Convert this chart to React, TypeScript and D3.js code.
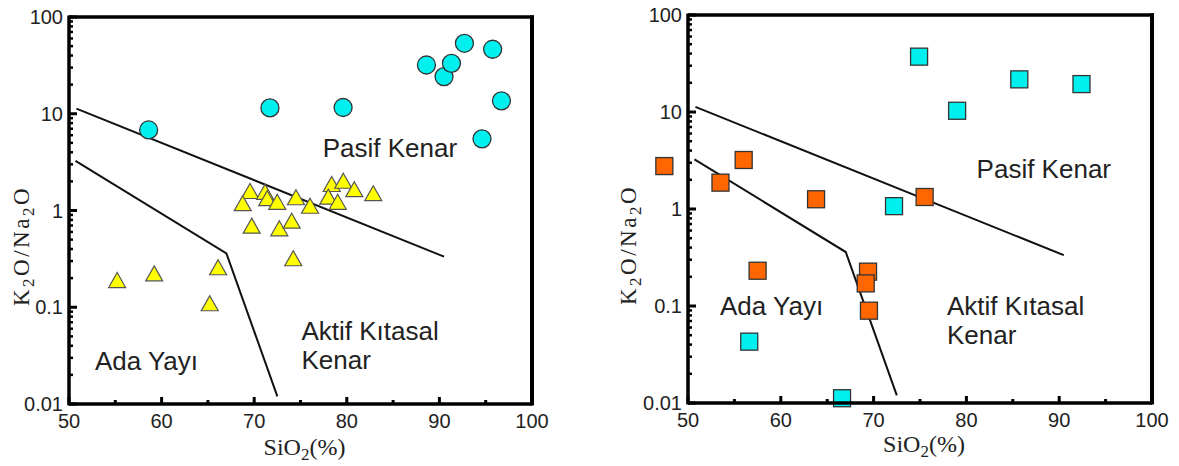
import React from "react";
import * as d3 from "d3";

// ---- Data ----
// Left panel: circles (Pasif Kenar group) and triangles
const CIRCLE_SIO2 = [58.6, 71.7, 79.6, 88.6, 90.5, 91.3, 92.7, 95.75, 96.7, 94.6];
const CIRCLE_RATIO = [6.8, 11.5, 11.6, 31.9, 24.2, 33.2, 53.5, 46.4, 13.6, 5.5];

const TRI_SIO2 = [55.2, 59.2, 66.1, 65.2, 69.55, 68.76, 71.17, 71.41, 72.49, 74.51, 76.03, 69.73, 72.71, 74.05, 74.22, 78.37, 79.62, 80.81, 78.0, 79.02, 82.86];
const TRI_RATIO = [0.191, 0.224, 0.259, 0.11, 1.59, 1.19, 1.56, 1.34, 1.23, 1.37, 1.12, 0.697, 0.655, 0.785, 0.321, 1.88, 2.03, 1.66, 1.39, 1.23, 1.51];

// Right panel: orange squares and cyan squares
const ORANGE_SIO2 = [47.45, 53.5, 56.0, 63.8, 75.5, 57.5, 69.4, 69.15, 69.5];
const ORANGE_RATIO = [2.77, 1.87, 3.2, 1.26, 1.33, 0.231, 0.226, 0.171, 0.0895];

const CYANSQ_SIO2 = [74.9, 85.7, 92.4, 79.0, 72.2, 56.6, 66.6];
const CYANSQ_RATIO = [37.2, 21.7, 19.4, 10.3, 1.07, 0.0429, 0.0112];

// Discrimination boundaries
const UPPER_SIO2 = [50.8, 90.5];
const UPPER_RATIO = [11.3, 0.334];
const LOWER_SIO2 = [50.7, 67.0, 72.5];
const LOWER_RATIO = [3.25, 0.36, 0.012];

// Axes
const X_DOMAIN = [50, 100];
const Y_DOMAIN = [0.01, 100];
const X_TICKS = [50, 60, 70, 80, 90, 100];
const X_TICK_LABELS = ["50", "60", "70", "80", "90", "100"];
const X_MINOR = [55, 65, 75, 85, 95];
const Y_TICKS = [0.01, 0.1, 1, 10, 100];
const Y_TICK_LABELS = ["0.01", "0.1", "1", "10", "100"];

// Region labels
const REGION_LEFT = [
  { lines: ["Pasif Kenar"], x: 77.4, y: 3.57 },
  { lines: ["Ada Yayı"], x: 52.8, y: 0.0224 },
  { lines: ["Aktif Kıtasal", "Kenar"], x: 75.1, y: 0.0459 },
];
const REGION_RIGHT = [
  { lines: ["Pasif Kenar"], x: 81.1, y: 2.07 },
  { lines: ["Ada Yayı"], x: 53.45, y: 0.0807 },
  { lines: ["Aktif Kıtasal", "Kenar"], x: 77.9, y: 0.0807 },
];

const zip = (a: number[], b: number[]) => a.map((v, i) => [v, b[i]] as [number, number]);

const SANS = "'Liberation Sans', Arial, sans-serif";
const SERIF = "'Liberation Serif', 'Times New Roman', serif";

type Box = { x0: number; x1: number; y0: number; y1: number; titleX: number; titleY: number; xTitleY: number };

function Panel({ box, children, regions }: { box: Box; children: (x: any, y: any) => React.ReactNode; regions: any[] }) {
  const x = d3.scaleLinear().domain(X_DOMAIN).range([box.x0, box.x1]);
  const y = d3.scaleLog().domain(Y_DOMAIN).range([box.y1, box.y0]);
  const line = d3
    .line<[number, number]>()
    .x((d) => x(d[0]))
    .y((d) => y(d[1]));
  const minorY: number[] = [];
  for (let e = -2; e < 2; e++) for (let m = 2; m <= 9; m++) minorY.push(m * Math.pow(10, e));

  return (
    <g>
      {/* boundary lines */}
      <path d={line(zip(UPPER_SIO2, UPPER_RATIO)) || ""} fill="none" stroke="#111" strokeWidth={2} />
      <path d={line(zip(LOWER_SIO2, LOWER_RATIO)) || ""} fill="none" stroke="#111" strokeWidth={2} />

      {/* region labels */}
      {regions.map((r, i) => (
        <text key={i} x={x(r.x)} y={y(r.y)} fontFamily={SANS} fontSize={26} fill="#222">
          {r.lines.map((l: string, j: number) => (
            <tspan key={j} x={x(r.x)} dy={j === 0 ? 0 : 29}>
              {l}
            </tspan>
          ))}
        </text>
      ))}

      {children(x, y)}

      {/* frame */}
      <line x1={box.x0} x2={box.x1 + 2} y1={box.y0} y2={box.y0} stroke="#000" strokeWidth={3.5} />
      <line x1={box.x1} x2={box.x1} y1={box.y0 - 1.5} y2={box.y1 + 1.5} stroke="#000" strokeWidth={4} />
      <line x1={box.x0} x2={box.x0} y1={box.y0 - 1.5} y2={box.y1 + 1.5} stroke="#000" strokeWidth={3.5} />
      <line x1={box.x0} x2={box.x1} y1={box.y1} y2={box.y1} stroke="#000" strokeWidth={3.5} />

      {/* y ticks */}
      {Y_TICKS.map((t) => (
        <line key={"ym" + t} x1={box.x0} x2={box.x0 + 8} y1={y(t)} y2={y(t)} stroke="#000" strokeWidth={3} />
      ))}
      {minorY.map((t) => (
        <line key={"yn" + t} x1={box.x0} x2={box.x0 + 4} y1={y(t)} y2={y(t)} stroke="#000" strokeWidth={2.5} />
      ))}
      {Y_TICKS.map((t, i) => (
        <text key={"yl" + t} x={box.x0 - 6} y={y(t)} dy="0.36em" textAnchor="end" fontFamily={SANS} fontSize={20} fill="#222">
          {Y_TICK_LABELS[i]}
        </text>
      ))}

      {/* x ticks */}
      {X_TICKS.map((t) => (
        <line key={"xm" + t} x1={x(t)} x2={x(t)} y1={box.y1} y2={box.y1 - 7} stroke="#000" strokeWidth={3} />
      ))}
      {X_MINOR.map((t) => (
        <line key={"xn" + t} x1={x(t)} x2={x(t)} y1={box.y1} y2={box.y1 - 4} stroke="#000" strokeWidth={3} />
      ))}
      {X_TICKS.map((t, i) => (
        <text key={"xl" + t} x={x(t)} y={box.y1 + 24} textAnchor="middle" fontFamily={SANS} fontSize={20} fill="#222">
          {X_TICK_LABELS[i]}
        </text>
      ))}

      {/* axis titles */}
      <text x={(box.x0 + box.x1) / 2 + 4} y={box.xTitleY} textAnchor="middle" fontFamily={SERIF} fontSize={24} fill="#222">
        SiO
        <tspan dy={5} fontSize={17}>2</tspan>
        <tspan dy={-5}>(%)</tspan>
      </text>
      <text
        transform={`translate(${box.titleX},${box.titleY}) rotate(-90)`}
        textAnchor="middle"
        fontFamily={SERIF}
        fontSize={23}
        letterSpacing={2.5}
        fill="#222"
      >
        K<tspan dy={5} fontSize={17}>2</tspan>
        <tspan dy={-5}>O/Na</tspan>
        <tspan dy={5} fontSize={17}>2</tspan>
        <tspan dy={-5}>O</tspan>
      </text>
    </g>
  );
}

export default function App() {
  const leftBox: Box = { x0: 69, x1: 532, y0: 17, y1: 404, titleX: 29, titleY: 246, xTitleY: 455 };
  const rightBox: Box = { x0: 688, x1: 1152, y0: 15, y1: 403, titleX: 636, titleY: 245, xTitleY: 452 };
  const tri = (cx: number, cy: number) => {
    const w = 17, h = 15;
    return `M${cx},${cy - h / 2}L${cx + w / 2},${cy + h / 2}L${cx - w / 2},${cy + h / 2}Z`;
  };
  const S = 17;
  return (
    <div style={{ position: "absolute", left: 0, top: 0 }}>
      <svg width={1179} height={466} style={{ display: "block", background: "#fff" }}>
        <Panel box={leftBox} regions={REGION_LEFT}>
          {(x, y) => (
            <g>
              {zip(TRI_SIO2, TRI_RATIO).map((d, i) => (
                <path key={"t" + i} d={tri(x(d[0]), y(d[1]))} fill="#FFFF00" stroke="#555" strokeWidth={1.2} />
              ))}
              {zip(CIRCLE_SIO2, CIRCLE_RATIO).map((d, i) => (
                <circle key={"c" + i} cx={x(d[0])} cy={y(d[1])} r={9} fill="#00F0F0" stroke="#333" strokeWidth={1.3} />
              ))}
            </g>
          )}
        </Panel>
        <Panel box={rightBox} regions={REGION_RIGHT}>
          {(x, y) => (
            <g>
              {zip(CYANSQ_SIO2, CYANSQ_RATIO).map((d, i) => (
                <rect key={"q" + i} x={x(d[0]) - S / 2} y={y(d[1]) - S / 2} width={S} height={S} fill="#00F0F0" stroke="#333" strokeWidth={1.3} />
              ))}
              {zip(ORANGE_SIO2, ORANGE_RATIO).map((d, i) => (
                <rect key={"o" + i} x={x(d[0]) - S / 2} y={y(d[1]) - S / 2} width={S} height={S} fill="#FF6600" stroke="#333" strokeWidth={1.3} />
              ))}
            </g>
          )}
        </Panel>
      </svg>
    </div>
  );
}
